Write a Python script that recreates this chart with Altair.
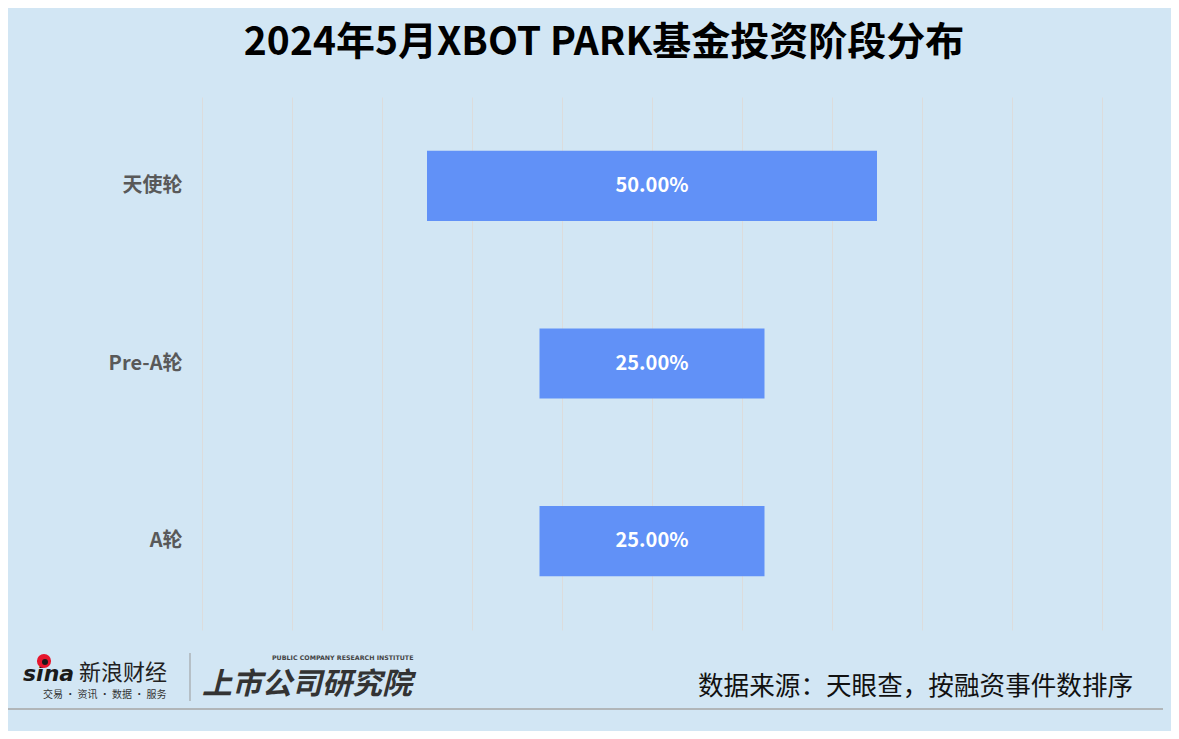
import altair as alt
import pandas as pd

categories = ["天使轮", "Pre-A轮", "A轮"]
shares = [50.0, 25.0, 25.0]
labels = ["50.00%", "25.00%", "25.00%"]

BG = "#D2E6F4"
BAR = "#6191F7"
FONT = "Noto Sans CJK SC"

df = pd.DataFrame({"cat": categories, "v": shares, "lab": labels})

base = alt.Chart(df).transform_calculate(
    lo="-datum.v/2", hi="datum.v/2", mid="0"
)

y_enc = alt.Y(
    "cat:N",
    sort=categories,
    scale=alt.Scale(paddingInner=0.605, paddingOuter=0.3025),
    axis=alt.Axis(
        title=None, ticks=False, domain=False, labelPadding=20,
        labelFont=FONT, labelFontSize=20, labelFontWeight="bold",
        labelColor="#595959", grid=False,
    ),
)

x_scale = alt.Scale(domain=[-50, 50], nice=False, zero=False)

bars = base.mark_bar(color=BAR).encode(
    y=y_enc,
    x=alt.X(
        "lo:Q", scale=x_scale,
        axis=alt.Axis(
            title=None, labels=False, ticks=False, domain=False,
            values=[-50, -40, -30, -20, -10, 0, 10, 20, 30, 40, 50],
            grid=True, gridColor="#DCDCDC", gridWidth=1,
        ),
    ),
    x2="hi:Q",
)

bar_text = base.mark_text(
    color="white", font=FONT, fontSize=20, fontWeight="bold", baseline="middle"
).encode(
    y=alt.Y("cat:N", sort=categories),
    x=alt.X("mid:Q", scale=x_scale),
    text="lab:N",
)

one = pd.DataFrame({"a": [0]})
o = alt.Chart(one)

footer = o.mark_text(
    text="数据来源：天眼查，按融资事件数排序", font=FONT, fontSize=25.6,
    color="#111111", align="left", baseline="middle",
).encode(x=alt.value(496), y=alt.value(590))

bottom_line = o.mark_rule(color="#A6A6A6", strokeWidth=1.5).encode(
    x=alt.value(-194), x2=alt.value(961), y=alt.value(612)
)

sina = o.mark_text(
    text="sina", font="DejaVu Sans", fontSize=22, fontWeight="bold",
    fontStyle="italic", color="#1a1a1a", align="left", baseline="alphabetic",
).encode(x=alt.value(-179), y=alt.value(584))

eye = o.mark_point(filled=True, color="#E6162D", size=200, opacity=1).encode(
    x=alt.value(-158), y=alt.value(564)
)
eye2 = o.mark_point(filled=True, color="#1a1a1a", size=36, opacity=1).encode(
    x=alt.value(-157), y=alt.value(565)
)

xinlang = o.mark_text(
    text="新浪财经", font=FONT, fontSize=22, color="#222222",
    align="left", baseline="middle",
).encode(x=alt.value(-123), y=alt.value(576))

slogan = o.mark_text(
    text="交易 · 资讯 · 数据 · 服务", font=FONT, fontSize=10, color="#333333",
    align="left", baseline="middle",
).encode(x=alt.value(-159), y=alt.value(598))

divider = o.mark_rule(color="#999999", strokeWidth=1).encode(
    x=alt.value(-12), y=alt.value(556), y2=alt.value(604)
)

inst = o.mark_text(
    text="上市公司研究院", font=FONT, fontSize=30, fontWeight="bold",
    fontStyle="italic", color="#333333", align="left", baseline="middle",
).encode(x=alt.value(0), y=alt.value(588))

inst_en = o.mark_text(
    text="PUBLIC COMPANY RESEARCH INSTITUTE", font="DejaVu Sans", fontSize=6.3,
    fontWeight="bold", color="#444444", align="left", baseline="middle",
).encode(x=alt.value(70), y=alt.value(561))

chart = alt.layer(
    bars, bar_text, footer, bottom_line, sina, eye, eye2, xinlang, slogan,
    divider, inst, inst_en,
).properties(
    width=900,
    height=533,
    background=BG,
    padding={"left": 194, "top": 89, "right": 69, "bottom": 101},
    autosize=alt.AutoSizeParams(type="none"),
    title=alt.TitleParams(
        text="2024年5月XBOT PARK基金投资阶段分布",
        font=FONT, fontSize=39, fontWeight="bold", color="#000000",
        anchor="middle", dx=-48, offset=34,
    ),
).configure_view(stroke=None)

chart.save("out.html", embed_options={"renderer": "svg", "actions": False})
